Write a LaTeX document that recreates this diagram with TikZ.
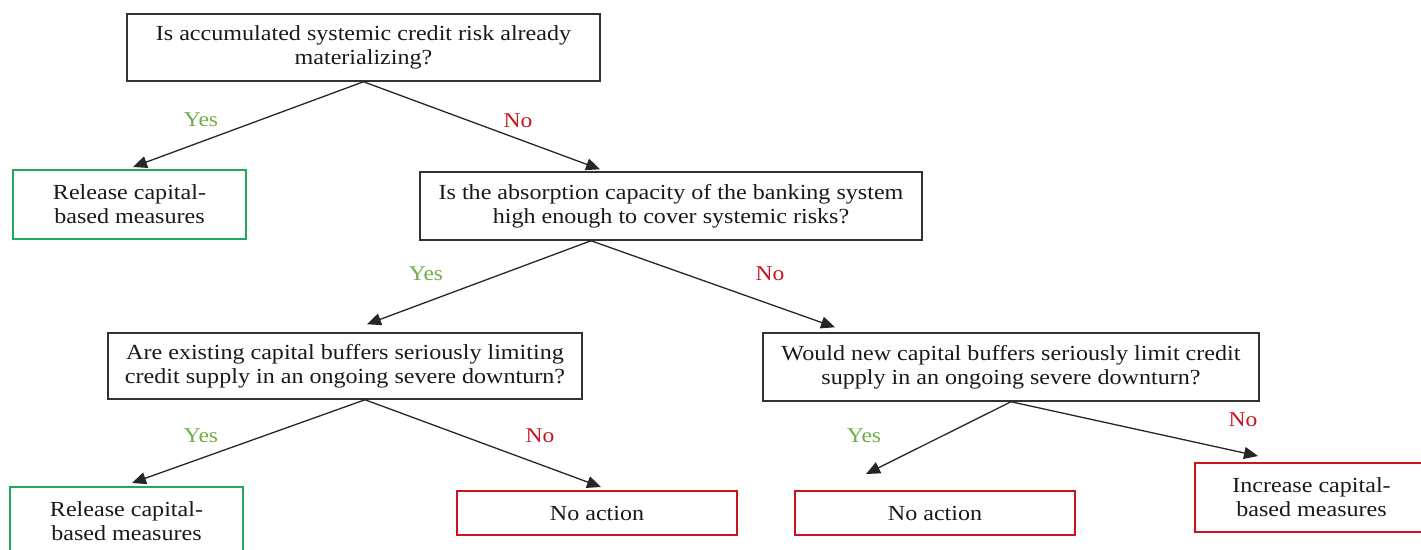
\documentclass[tikz,border=0pt]{standalone}
\usepackage{fontspec}
\setmainfont{Liberation Serif}[FakeStretch=1.12]
\usetikzlibrary{arrows.meta}
\definecolor{boxgreen}{RGB}{34,168,90}
\definecolor{yesgreen}{RGB}{112,173,71}
\definecolor{nored}{RGB}{200,20,30}
\definecolor{txt}{RGB}{25,25,25}
\tikzset{
  qbox/.style={draw=black!80, line width=1.5pt, align=center, text=txt, inner sep=0pt,
    font=\fontsize{21.5}{24}\selectfont},
  gbox/.style={qbox, draw=boxgreen, line width=2pt},
  rbox/.style={qbox, draw=nored, line width=2pt},
  yeslab/.style={text=yesgreen, font=\fontsize{21}{24}\selectfont},
  nolab/.style={text=nored, font=\fontsize{21}{24}\selectfont},
  conn/.style={draw=black!85, line width=1.3pt, -{Triangle[length=14pt,width=12pt]}}
}
\begin{document}
\begin{tikzpicture}[x=1pt,y=-1pt]
\useasboundingbox (0,0) rectangle (1421,549);
% nodes
\node[qbox, minimum width=473pt, minimum height=67pt] (q1) at (363.5,47.5)
  {Is accumulated systemic credit risk already\\materializing?};
\node[gbox, minimum width=233pt, minimum height=69pt] (r1) at (129.5,204.5)
  {Release capital-\\based measures};
\node[qbox, minimum width=502pt, minimum height=68pt] (q2) at (671,206)
  {Is the absorption capacity of the banking system\\high enough to cover systemic risks?};
\node[qbox, minimum width=474pt, minimum height=66pt] (q3) at (345,366)
  {Are existing capital buffers seriously limiting\\credit supply in an ongoing severe downturn?};
\node[qbox, minimum width=496pt, minimum height=68pt] (q4) at (1011,367)
  {Would new capital buffers seriously limit credit\\supply in an ongoing severe downturn?};
\node[gbox, minimum width=233pt, minimum height=69pt] (r2) at (126.5,521.5)
  {Release capital-\\based measures};
\node[rbox, minimum width=280pt, minimum height=44pt] (n1) at (597,513) {No action};
\node[rbox, minimum width=280pt, minimum height=44pt] (n2) at (935,513) {No action};
\node[rbox, minimum width=233pt, minimum height=69pt] (inc) at (1311.5,497.5)
  {Increase capital-\\based measures};
% connector end points
\coordinate (q1o) at (q1.south);
\coordinate (q2o) at ([xshift=-80pt]q2.south);
\coordinate (q3o) at ([xshift=20pt]q3.south);
\coordinate (q4o) at (q4.south);
\coordinate (r1t) at ([xshift=3.5pt,yshift=2pt]r1.north);
\coordinate (q2t) at ([xshift=-71pt,yshift=2pt]q2.north);
\coordinate (q3t) at ([xshift=22pt,yshift=8pt]q3.north);
\coordinate (q4t) at ([xshift=-176pt,yshift=5pt]q4.north);
\coordinate (r2t) at ([xshift=5.5pt,yshift=3pt]r2.north);
\coordinate (n1t) at ([xshift=4pt,yshift=3pt]n1.north);
\coordinate (n2t) at ([xshift=-69pt,yshift=16pt]n2.north);
\coordinate (inct) at ([xshift=-53.5pt,yshift=6pt]inc.north);
% connectors
\draw[conn] (q1o) -- (r1t);
\draw[conn] (q1o) -- (q2t);
\draw[conn] (q2o) -- (q3t);
\draw[conn] (q2o) -- (q4t);
\draw[conn] (q3o) -- (r2t);
\draw[conn] (q3o) -- (n1t);
\draw[conn] (q4o) -- (n2t);
\draw[conn] (q4o) -- (inct);
% labels
\node[yeslab] (l1) at (201,120) {Yes};
\node[nolab] (l2) at (518,121) {No};
\node[yeslab] (l3) at (426,274) {Yes};
\node[nolab] (l4) at (770,274) {No};
\node[yeslab] (l5) at (201,436) {Yes};
\node[nolab] (l6) at (540,436) {No};
\node[yeslab] (l7) at (864,436) {Yes};
\node[nolab] (l8) at (1243,420) {No};
\end{tikzpicture}
\end{document}
